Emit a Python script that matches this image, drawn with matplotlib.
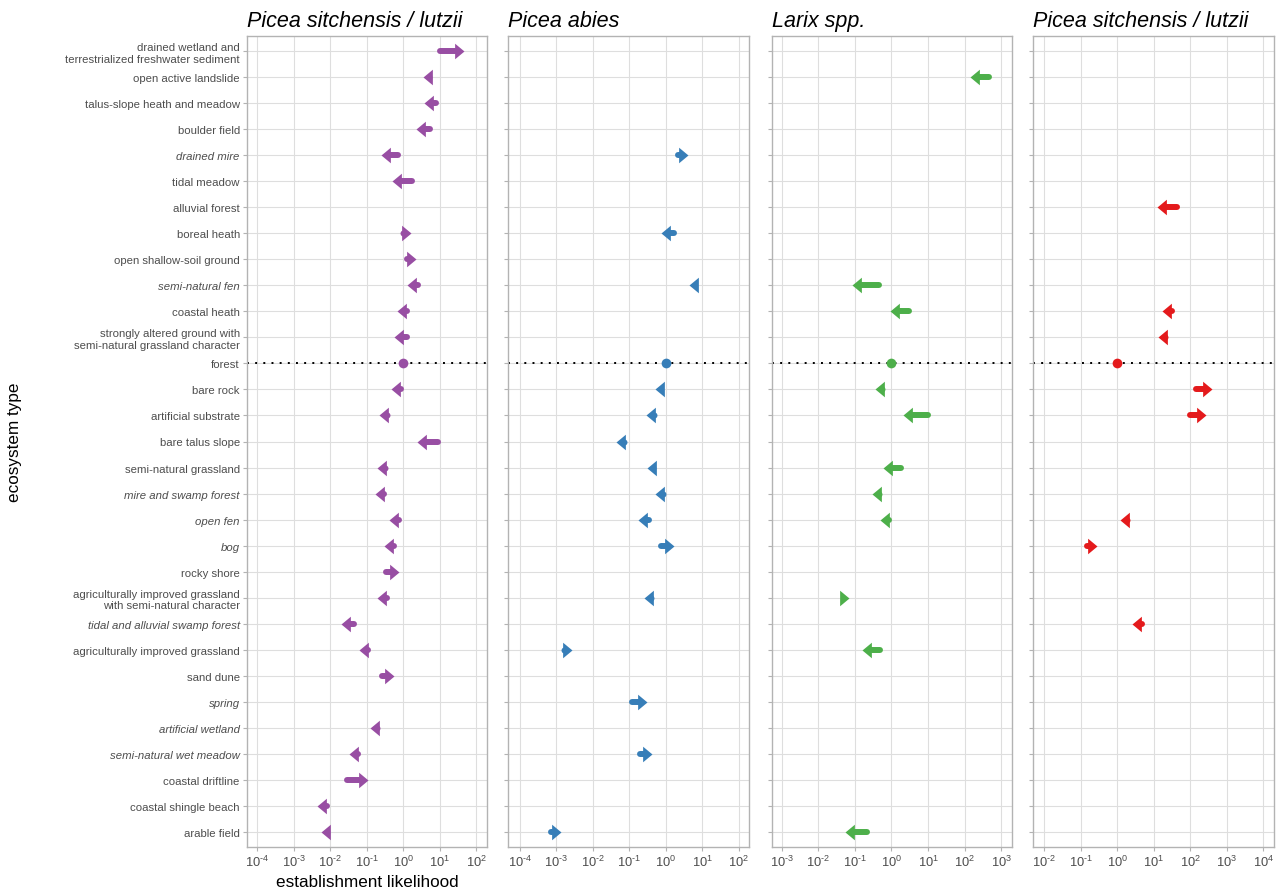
import numpy as np
import matplotlib
matplotlib.use("Agg")
import matplotlib.pyplot as plt
from matplotlib.path import Path
from matplotlib.markers import MarkerStyle

plt.rcParams['font.family'] = ['Liberation Sans', 'DejaVu Sans']
plt.rcParams['mathtext.fontset'] = 'custom'
plt.rcParams['mathtext.rm'] = 'Liberation Sans'
plt.rcParams['mathtext.it'] = 'Liberation Sans:italic'

# Ecosystem types, top to bottom
categories = [
    "drained wetland and\nterrestrialized freshwater sediment",
    "open active landslide",
    "talus-slope heath and meadow",
    "boulder field",
    "drained mire",
    "tidal meadow",
    "alluvial forest",
    "boreal heath",
    "open shallow-soil ground",
    "semi-natural fen",
    "coastal heath",
    "strongly altered ground with\nsemi-natural grassland character",
    "forest",
    "bare rock",
    "artificial substrate",
    "bare talus slope",
    "semi-natural grassland",
    "mire and swamp forest",
    "open fen",
    "bog",
    "rocky shore",
    "agriculturally improved grassland\nwith semi-natural character",
    "tidal and alluvial swamp forest",
    "agriculturally improved grassland",
    "sand dune",
    "spring",
    "artificial wetland",
    "semi-natural wet meadow",
    "coastal driftline",
    "coastal shingle beach",
    "arable field",
]
italic_cats = ["drained mire", "semi-natural fen", "mire and swamp forest", "open fen", "bog",
               "tidal and alluvial swamp forest", "spring", "artificial wetland",
               "semi-natural wet meadow"]

titles = ["Picea sitchensis / lutzii", "Picea abies", "Larix spp.", "Picea sitchensis / lutzii"]
colors = ["#984EA3", "#377EB8", "#4DAF4A", "#E41A1C"]

# Panel 1: Picea sitchensis / lutzii
p1_cats = ["drained wetland and\nterrestrialized freshwater sediment", "open active landslide",
           "talus-slope heath and meadow", "boulder field", "drained mire", "tidal meadow",
           "boreal heath", "open shallow-soil ground", "semi-natural fen", "coastal heath",
           "strongly altered ground with\nsemi-natural grassland character", "bare rock",
           "artificial substrate", "bare talus slope", "semi-natural grassland",
           "mire and swamp forest", "open fen", "bog", "rocky shore",
           "agriculturally improved grassland\nwith semi-natural character",
           "tidal and alluvial swamp forest", "agriculturally improved grassland", "sand dune",
           "artificial wetland", "semi-natural wet meadow", "coastal driftline",
           "coastal shingle beach", "arable field"]
p1_from = [10, 5.2, 8.1, 5.4, 0.72, 1.7, 1.0, 1.23, 2.45, 1.23, 1.23, 0.85, 0.36, 8.7, 0.32,
           0.30, 0.74, 0.55, 0.33, 0.35, 0.045, 0.11, 0.26, 0.195, 0.056, 0.028, 0.0081, 0.0083]
p1_to = [46, 3.5, 3.7, 2.2, 0.25, 0.48, 1.6, 2.2, 1.23, 0.69, 0.56, 0.45, 0.22, 2.4, 0.195,
         0.166, 0.41, 0.30, 0.76, 0.19, 0.020, 0.062, 0.54, 0.123, 0.032, 0.105, 0.0044, 0.0055]

# Panel 2: Picea abies
p2_cats = ["drained mire", "boreal heath", "semi-natural fen", "bare rock", "artificial substrate",
           "bare talus slope", "semi-natural grassland", "mire and swamp forest", "open fen", "bog",
           "agriculturally improved grassland\nwith semi-natural character",
           "agriculturally improved grassland", "spring", "semi-natural wet meadow", "arable field"]
p2_from = [2.2, 1.66, 7.4, 0.87, 0.46, 0.071, 0.44, 0.83, 0.34, 0.72, 0.39, 0.0016, 0.12, 0.19,
           0.00072]
p2_to = [4.0, 0.76, 4.4, 0.52, 0.29, 0.044, 0.30, 0.50, 0.174, 1.66, 0.25, 0.0026, 0.30, 0.42,
         0.0013]

# Panel 3: Larix spp.
p3_cats = ["open active landslide", "semi-natural fen", "coastal heath", "bare rock",
           "artificial substrate", "semi-natural grassland", "mire and swamp forest", "open fen",
           "agriculturally improved grassland\nwith semi-natural character",
           "agriculturally improved grassland", "arable field"]
p3_from = [457, 0.45, 3.0, 0.54, 10.2, 1.78, 0.46, 0.85, 0.041, 0.49, 0.22]
p3_to = [141, 0.085, 0.89, 0.36, 2.0, 0.60, 0.30, 0.49, 0.069, 0.16, 0.055]

# Panel 4: Picea sitchensis / lutzii
p4_cats = ["alluvial forest", "coastal heath",
           "strongly altered ground with\nsemi-natural grassland character", "bare rock",
           "artificial substrate", "open fen", "bog", "tidal and alluvial swamp forest"]
p4_from = [43, 31, 20, 145, 100, 1.86, 0.15, 4.8]
p4_to = [12, 17, 13, 390, 270, 1.17, 0.28, 2.5]

forest_value = 1.0

panels = [(p1_cats, p1_from, p1_to), (p2_cats, p2_from, p2_to),
          (p3_cats, p3_from, p3_to), (p4_cats, p4_from, p4_to)]
decades = [(-4, 2), (-4, 2), (-3, 3), (-2, 4)]
xlims = [(10**-4.29, 10**2.3), (10**-4.32, 10**2.29), (10**-3.27, 10**3.29), (10**-2.3, 10**4.3)]
boxes = [(246.7, 487.3), (508.3, 749.3), (771.7, 1012.0), (1033.3, 1274.3)]

W, H = 1276, 895
top, bottom = 36.7, 848.3
fig = plt.figure(figsize=(W / 100, H / 100), dpi=100)

head_len = 9.0      # px
shaft_lw = 4.3      # pt
head_r = Path([(0, 0), (-1, 0.83), (-1, -0.83), (0, 0)],
              [Path.MOVETO, Path.LINETO, Path.LINETO, Path.CLOSEPOLY])
head_l = Path([(0, 0), (1, 0.83), (1, -0.83), (0, 0)],
              [Path.MOVETO, Path.LINETO, Path.LINETO, Path.CLOSEPOLY])

grey_txt = "#4D4D4D"
nrow = len(categories)

for i, (cats, x0s, x1s) in enumerate(panels):
    l, r = boxes[i]
    ax = fig.add_axes([l / W, (H - bottom) / H, (r - l) / W, (bottom - top) / H])
    ax.set_xscale("log")
    ax.set_xlim(*xlims[i])
    ax.set_ylim(nrow - 1 + 0.6, -0.6)
    lo, hi = decades[i]
    ticks = [10.0**k for k in range(lo, hi + 1)]
    ax.set_xticks(ticks)
    ax.set_xticklabels([r"$10^{\text{-}%d}$" % -k if k < 0 else r"$10^{%d}$" % k
                        for k in range(lo, hi + 1)])
    ax.xaxis.set_minor_locator(matplotlib.ticker.NullLocator())
    ax.set_yticks(range(nrow))
    if i == 0:
        ax.set_yticklabels(categories, linespacing=1.2)
        for lab in ax.get_yticklabels():
            if lab.get_text() in italic_cats:
                lab.set_style("italic")
        ax.set_xlabel("establishment likelihood", fontsize=12.3, labelpad=3)
    else:
        ax.set_yticklabels([])
    ax.tick_params(axis="both", colors="#B3B3B3", labelcolor=grey_txt, labelsize=9.3,
                   length=3, width=0.8, pad=2)
    ax.tick_params(axis="y", labelsize=8.2)
    ax.grid(True, color="#DEDEDE", lw=0.8)
    ax.set_axisbelow(True)
    for s in ax.spines.values():
        s.set_color("#B3B3B3")
        s.set_linewidth(1.0)
    ax.set_title(titles[i], loc="left", style="italic", fontsize=15.5, pad=7)

    # reference line at forest
    fy = categories.index("forest")
    ax.axhline(fy, color="black", lw=1.4, ls=(0, (1, 3.2)), zorder=2)
    ax.plot([forest_value], [fy], "o", color=colors[i], ms=7, mew=0, zorder=4)

    inv = ax.transData.inverted()
    for c, x0, x1 in zip(cats, x0s, x1s):
        y = categories.index(c)
        p0 = ax.transData.transform((x0, y))
        p1 = ax.transData.transform((x1, y))
        d = 1.0 if p1[0] > p0[0] else -1.0
        dist = abs(p1[0] - p0[0])
        if dist > head_len * 0.9:
            base = inv.transform((p1[0] - d * head_len * 0.9, p1[1]))[0]
            ax.plot([x0, base], [y, y], color=colors[i], lw=shaft_lw,
                    solid_capstyle="round", zorder=3)
        else:
            ax.plot([x0], [y], "o", color=colors[i], ms=shaft_lw, mew=0, zorder=3)
        ax.plot([x1], [y], marker=MarkerStyle(head_r if d > 0 else head_l), ms=13.5,
                color=colors[i], mew=0, zorder=3)

fig.text(15 / W, 1 - (top + bottom) / 2 / H, "ecosystem type", rotation=90,
         fontsize=12.3, ha="center", va="center")

fig.savefig("out.png", dpi=100)
